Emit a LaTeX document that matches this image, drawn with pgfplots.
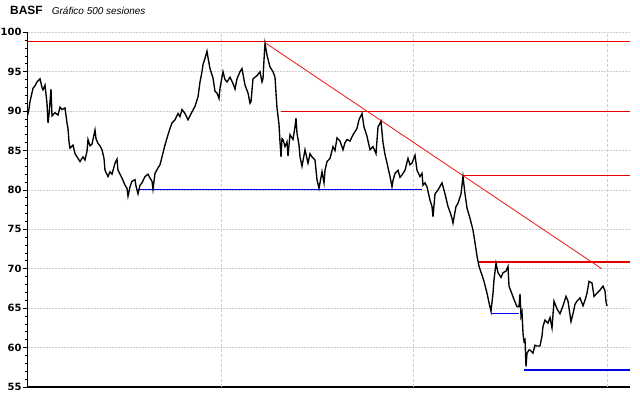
\documentclass[border=0pt]{standalone}
\usepackage{pgfplots}
\pgfplotsset{compat=1.18}
\usepackage{fontspec}
\setmainfont{Liberation Sans}
\newfontfamily\dejavu{DejaVu Sans}
\definecolor{gridgray}{RGB}{205,205,205}
\definecolor{myred}{RGB}{235,0,0}
\definecolor{myblue}{RGB}{0,0,235}
\begin{document}
\begin{tikzpicture}
\useasboundingbox (-27.7bp,-11bp) rectangle (612.3bp,387bp);
\begin{axis}[
 at={(0,0)}, anchor=south west,
 scale only axis, width=602.3bp, height=354.7bp,
 xmin=27.7, xmax=630, ymin=55, ymax=100,
 axis lines*=left,
 axis line style={line width=1.3bp, black},
 xtick=\empty,
 extra x ticks={221.3,413.3,607.3},
 extra x tick labels={},
 extra x tick style={major tick length=0pt, grid=major, major grid style={gridgray, dash pattern=on 3bp off 2bp, line width=0.8bp}},
 ytick={55,60,...,100},
 minor y tick num=4,
 tick align=outside,
 major tick length=5bp, minor tick length=3bp,
 tick style={black, line width=0.8bp},
 ymajorgrids, major grid style={gridgray, dash pattern=on 2bp off 1bp, line width=0.8bp},
 yticklabel style={font=\dejavu\bfseries\fontsize{10}{12}\selectfont, inner sep=0pt, xshift=-1bp},
 /pgf/number format/assume math mode=true,
 clip=false,
]
\addplot[myred, line width=1.3bp] coordinates {(27.7,98.83) (630,98.83)};
\addplot[myred, line width=1.3bp] coordinates {(280.7,89.94) (630,89.94)};
\addplot[myred, line width=1.3bp] coordinates {(462.7,81.83) (630,81.83)};
\addplot[myred, line width=1.3bp] coordinates {(478.3,70.85) (630,70.85)};
\addplot[myred!85!white, line width=0.9bp] coordinates {(266,98.6) (601.7,70.0)};
\addplot[myblue, line width=1.3bp] coordinates {(138,80.1) (421.7,80.1)};
\addplot[myblue, line width=1.3bp] coordinates {(490.7,64.3) (519.3,64.3)};
\addplot[myblue, line width=1.3bp] coordinates {(524.3,57.16) (630,57.16)};
\addplot[black, line width=1.35bp] coordinates {
(27.7,89.5) (29,90.3) (30,91.2) (33,92.9) (35,93.2) (37,93.7) (40,94.1) (42,93.0) (43,92.7) (45,93.3)
(47,91.0) (48,88.5) (49,89.5) (51,92.8) (52,89.4) (55,89.8) (58,89.5) (60,90.5) (62,90.2) (65,90.4)
(67,88.5) (68,87.8) (69,86.1) (70,85.3) (73,85.7) (75,84.6) (77,84.2) (80,83.6) (83,84.2) (85,83.8)
(87,84.9) (88,86.4) (90,85.6) (92,85.8) (95,87.6) (96,86.5) (98,85.9) (100,85.6) (102,85.1) (104,84.0)
(105,82.5) (108,81.7) (110,82.3) (112,82.0) (115,83.4) (117,83.9) (118,82.5) (120,82.0) (122,81.5) (125,80.6)
(127,80.2) (128,79.2) (130,80.4) (132,81.1) (135,81.3) (136,80.5) (138,79.5) (140,80.6) (142,80.9) (145,81.7)
(148,82.0) (150,81.5) (152,81.1) (153,80.1) (155,82.1) (158,82.8) (160,83.2) (162,84.2) (165,85.7) (168,87.0)
(170,87.8) (172,88.5) (175,88.9) (178,89.7) (180,89.3) (182,90.2) (185,89.7) (188,88.9) (190,89.4) (192,89.9)
(195,90.6) (198,91.8) (200,93.7) (202,95.0) (203,95.9) (205,96.7) (207,97.6) (208,96.8) (210,95.4) (213,94.2)
(215,92.5) (217,92.3) (219,91.6) (220,92.9) (223,95.0) (225,94.0) (227,93.7) (230,94.3) (233,93.5) (235,92.8)
(237,94.1) (240,95.0) (242,95.4) (245,93.3) (248,92.3) (250,91.0) (251,91.2) (253,94.1) (257,94.5) (260,95.0)
(262,93.7) (263,94.1) (264,96.5) (265,98.6) (267,97.1) (270,95.6) (273,95.0) (275,94.3) (276,92.3) (277,90.4)
(279,88.3) (280,86.1) (281,84.2) (282,86.5) (283,86.4) (285,85.5) (287,86.1) (288,84.3) (290,87.0) (293,86.4)
(295,88.0) (296,89.1) (297,87.2) (299,85.7) (300,84.2) (302,83.0) (305,85.1) (308,83.4) (310,84.6) (312,84.2)
(315,83.8) (317,81.3) (319,80.2) (322,82.3) (324,80.9) (325,82.5) (327,83.6) (330,84.0) (333,85.5) (335,85.0)
(337,86.6) (340,86.2) (343,85.1) (345,86.0) (347,86.4) (350,86.2) (353,87.0) (357,87.8) (359,88.9) (362,89.7)
(364,88.0) (367,86.8) (370,85.1) (373,85.5) (376,84.6) (378,88.0) (381,88.7) (383,86.0) (385,84.5) (387,83.4)
(390,81.7) (392,80.4) (393,81.2) (395,82.1) (398,82.5) (400,81.6) (402,81.9) (405,82.5) (408,84.0) (410,83.2)
(412,83.4) (415,84.4) (417,82.5) (420,81.7) (422,82.1) (423,80.6) (425,80.9) (427,80.4) (428,79.8) (430,78.7)
(432,77.9) (433,76.6) (435,79.5) (438,80.0) (442,80.9) (445,79.5) (448,77.9) (450,77.2) (452,76.4) (453,75.8)
(456,77.9) (458,78.3) (461,79.5) (463,81.7) (465,79.5) (467,77.7) (470,76.4) (473,74.9) (475,73.3) (477,71.6)
(479,70.3) (482,69.2) (484,68.4) (487,66.9) (489,65.7) (491,64.6) (493,66.9) (494,68.6) (496,70.7) (498,69.5)
(501,68.9) (503,69.5) (506,69.7) (508,70.3) (509,67.8) (512,66.8) (514,66.1) (517,65.2) (519,65.2) (520,66.8)
(521,64.0) (522,64.5) (523,61.8) (524,60.8) (525,61.0) (526,57.6) (527,59.3) (529,59.7) (530,59.7) (533,59.3)
(535,60.3) (537,60.2) (540,60.2) (542,61.5) (543,62.7) (545,63.5) (548,63.1) (550,63.8) (552,62.5) (554,65.9)
(557,64.9) (560,64.3) (563,65.3) (566,66.5) (568,65.9) (571,63.3) (573,64.3) (575,65.5) (577,65.9) (580,66.3)
(583,65.3) (585,66.0) (587,66.9) (589,68.4) (592,68.2) (594,66.5) (597,66.9) (600,67.3) (603,67.8) (605,67.2)
(606,65.8) (607,65.3)
};
\end{axis}
\node[anchor=base west, inner sep=0pt, font=\bfseries\fontsize{12}{14}\selectfont] at (-17.7bp,372bp) {BASF};
\node[anchor=base west, inner sep=0pt, font=\itshape\fontsize{10}{12}\selectfont] at (24bp,372bp) {Gráfico 500 sesiones};
\end{tikzpicture}
\end{document}
